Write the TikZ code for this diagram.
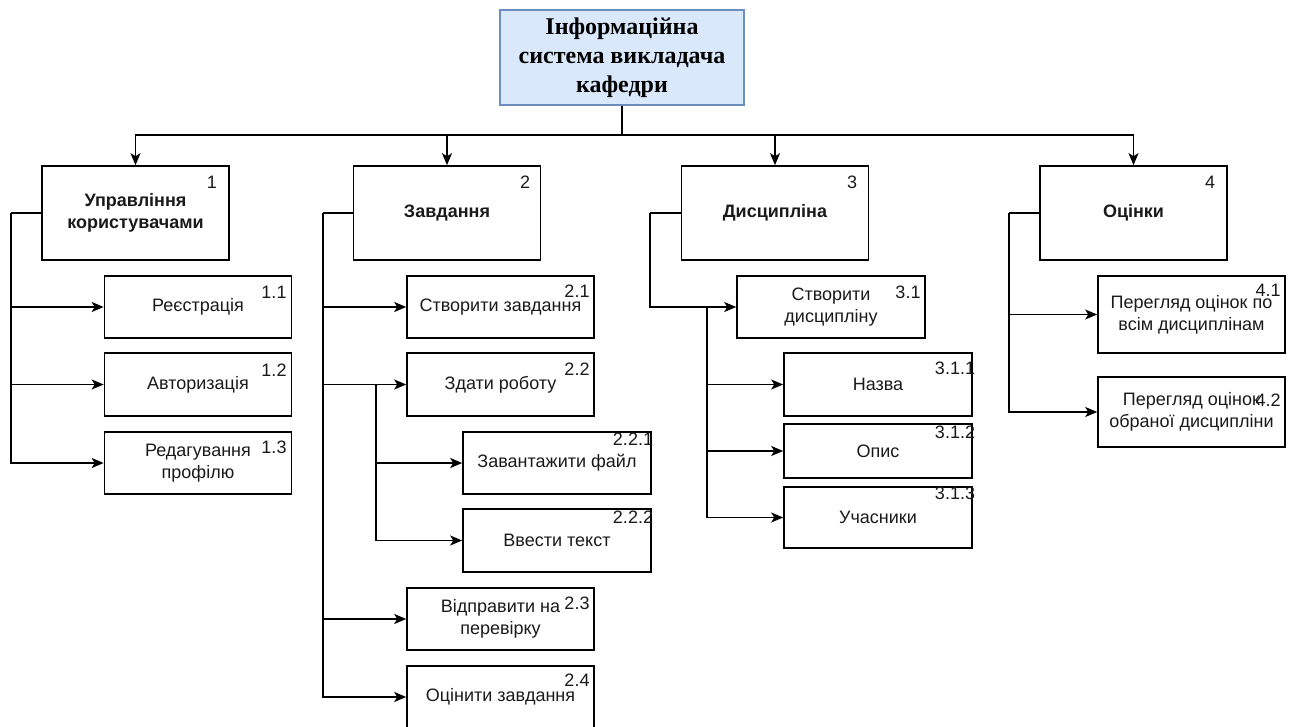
\documentclass[tikz,border=0pt]{standalone}
\usepackage{fontspec}
\setmainfont{Liberation Sans}
\newfontfamily\rootfont{Liberation Serif}
\usetikzlibrary{arrows.meta}
\definecolor{rootfill}{HTML}{DAE8FC}
\definecolor{rootdraw}{HTML}{6C8EBF}
\definecolor{txt}{HTML}{1A1A1A}
\begin{document}
\begin{tikzpicture}[x=1pt,y=-1pt,
  box/.style={draw=black, line width=1.6pt, fill=white, rectangle, inner sep=0pt, align=center, text=txt,
    font=\fontsize{18}{22}\selectfont},
  topbox/.style={box, font=\fontsize{18}{22}\selectfont\bfseries, minimum width=187pt, minimum height=94pt},
  leaf/.style={box, minimum width=187pt},
  rootbox/.style={draw=rootdraw, fill=rootfill, line width=1.4pt, rectangle, inner sep=0pt, align=center,
    font=\rootfont\fontsize{24}{29}\selectfont\bfseries, minimum width=244pt, minimum height=95pt},
  num/.style={inner sep=0pt, text=txt, font=\fontsize{18}{22}\selectfont},
  arr/.style={draw=black, line width=1.6pt, -{Stealth[length=12pt,width=10pt,inset=3pt]}},
  ln/.style={draw=black, line width=1.6pt}
]
\useasboundingbox (0,0) rectangle (1296,727);

% root
\node[rootbox] (root) at (622,57.5) {Інформаційна\\система викладача\\кафедри};

% level 1
\node[topbox] (b1) at (135.5,213) {Управління\\користувачами};
\node[topbox] (b2) at (447,213) {Завдання};
\node[topbox] (b3) at (775,213) {Дисципліна};
\node[topbox] (b4) at (1133.5,213) {Оцінки};

% level 2: branch 1
\node[leaf, minimum height=62pt] (b11) at (198,307) {Реєстрація};
\node[leaf, minimum height=63pt] (b12) at (198,384.5) {Авторизація};
\node[leaf, minimum height=62pt] (b13) at (198,463) {Редагування\\профілю};

% branch 2
\node[leaf, minimum height=62pt] (b21) at (500.5,307) {Створити завдання};
\node[leaf, minimum height=63pt] (b22) at (500.5,384.5) {Здати роботу};
\node[leaf, minimum height=62pt, minimum width=188pt] (b221) at (557,463) {Завантажити файл};
\node[leaf, minimum height=63pt, minimum width=188pt] (b222) at (557,540.5) {Ввести текст};
\node[leaf, minimum height=62pt] (b23) at (500.5,619) {Відправити на\\перевірку};
\node[leaf, minimum height=62pt] (b24) at (500.5,697) {Оцінити завдання};

% branch 3
\node[leaf, minimum height=62pt, minimum width=188pt] (b31) at (831,307) {Створити\\дисципліну};
\node[leaf, minimum height=63pt, minimum width=188pt] (b311) at (878,384.5) {Назва};
\node[leaf, minimum height=54pt, minimum width=188pt] (b312) at (878,451) {Опис};
\node[leaf, minimum height=61pt, minimum width=188pt] (b313) at (878,517.5) {Учасники};

% branch 4
\node[leaf, minimum height=77pt] (b41) at (1191.5,314.5) {Перегляд оцінок по\\всім дисциплінам};
\node[leaf, minimum height=70pt] (b42) at (1191.5,412) {Перегляд оцінок\\обраної дисципліни};

% numbers
\node[num] (n1) at (212,182) {1};
\node[num] (n2) at (525,182) {2};
\node[num] (n3) at (852,182) {3};
\node[num] (n4) at (1210,182) {4};
\node[num] (n11) at (274,292) {1.1};
\node[num] (n12) at (274,370) {1.2};
\node[num] (n13) at (274,447) {1.3};
\node[num] (n21) at (577,291) {2.1};
\node[num] (n22) at (577,369) {2.2};
\node[num] (n221) at (633,439) {2.2.1};
\node[num] (n222) at (633,517) {2.2.2};
\node[num] (n23) at (577,603) {2.3};
\node[num] (n24) at (577,680) {2.4};
\node[num] (n31) at (908,292) {3.1};
\node[num] (n311) at (955,368) {3.1.1};
\node[num] (n312) at (955,432) {3.1.2};
\node[num] (n313) at (955,493) {3.1.3};
\node[num] (n41) at (1268,290) {4.1};
\node[num] (n42) at (1268,400) {4.2};

% coordinates
\coordinate (bar) at (622,135);
\coordinate (l1) at (11,213);
\coordinate (l2) at (323,213);
\coordinate (l22) at (376,384.5);
\coordinate (l3) at (650,213);
\coordinate (l31) at (707,307);
\coordinate (l4) at (1009,213);

% root connectors
\draw[arr] (root.south) -- (bar) -| (b1.north);
\draw[arr] (bar) -| (b2.north);
\draw[arr] (bar) -| (b3.north);
\draw[arr] (bar) -| (b4.north);

% branch 1
\draw[ln] (b1.west) -- (l1);
\draw[arr] (l1) |- (b11.west);
\draw[arr] (l1) |- (b12.west);
\draw[arr] (l1) |- (b13.west);

% branch 2
\draw[ln] (b2.west) -- (l2);
\draw[arr] (l2) |- (b21.west);
\draw[arr] (l2) |- (b22.west);
\draw[arr] (l2) |- (b23.west);
\draw[arr] (l2) |- (b24.west);
\draw[arr] (l22) |- (b221.west);
\draw[arr] (l22) |- (b222.west);

% branch 3
\draw[ln] (b3.west) -- (l3);
\draw[arr] (l3) |- (b31.west);
\draw[arr] (l31) |- (b311.west);
\draw[arr] (l31) |- (b312.west);
\draw[arr] (l31) |- (b313.west);

% branch 4
\draw[ln] (b4.west) -- (l4);
\draw[arr] (l4) |- (b41.west);
\draw[arr] (l4) |- (b42.west);
\end{tikzpicture}
\end{document}
